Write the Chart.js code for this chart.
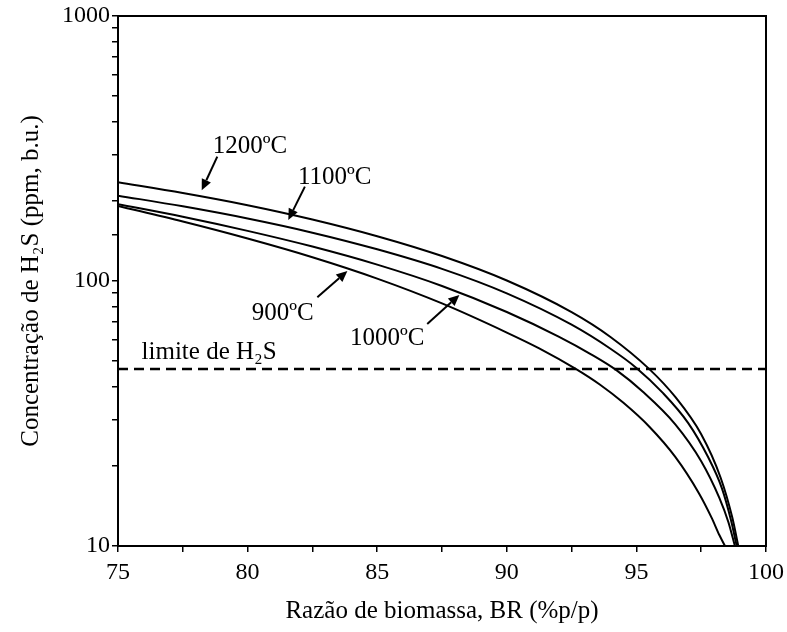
<!DOCTYPE html>
<html>
<head>
<meta charset="utf-8">
<script src="https://cdn.jsdelivr.net/npm/chart.js@4.4.1/dist/chart.umd.min.js"></script>
<style>
  html, body { margin: 0; padding: 0; background: #fff; }
  #wrap { width: 787px; height: 632px; }
</style>
</head>
<body>
<div id="wrap"><canvas id="c" width="787" height="632"></canvas></div>
<script>
// values: BR (%p/p) and H2S (ppm, b.u.)
const br1200 = [75, 77.5, 80, 82.5, 85, 87.5, 90, 92.5, 94, 95.5, 96.5, 97.5, 98.25, 98.7, 98.93];
const h2s1200 = [236, 214.9, 193.3, 170.7, 147.6, 124.2, 100.4, 76.3, 61.5, 46.5, 36.5, 26.4, 18.1, 12.8, 10];

const br1100 = [75, 77.5, 80, 82.5, 85, 87.5, 90, 92.5, 94, 95, 96, 97, 97.75, 98.3, 98.65, 98.87];
const h2s1100 = [210, 191.3, 172.1, 152.2, 131.7, 111.1, 89.8, 68.4, 55.5, 47.0, 38.0, 29.1, 21.8, 16.5, 12.5, 10];

const br1000 = [75, 77.5, 80, 82.5, 85, 87.5, 90, 92, 93.25, 94.24, 95.25, 96.5, 97.5, 98.2, 98.55, 98.8];
const h2s1000 = [195, 174.8, 154.6, 134.9, 115.3, 95.8, 76.4, 61.7, 52.9, 46.0, 38.2, 28.8, 20.9, 15.2, 12.3, 10];

const br900 = [75, 77.5, 80, 82.5, 85, 87.5, 90, 91.25, 92.66, 93.6, 94.5, 95.5, 96.5, 97.4, 97.9, 98.2, 98.42];
const h2s900 = [192, 167.6, 144.6, 122.9, 102.1, 82.3, 63.9, 55.7, 46.6, 40.6, 34.7, 28.2, 21.7, 15.9, 12.8, 11.0, 10];

const limitH2S = 46.6;
const yMajor = [10, 100, 1000];

// curve labels and arrows, in data units
const tempLabels = ['1200ºC', '1100ºC', '1000ºC', '900ºC'];
const labelPos = [[78.66, 304], [81.94, 232], [83.95, 57.3], [80.16, 71.3]];
const arrowFrom = [[78.83, 294.5], [82.21, 227], [86.93, 68.8], [82.69, 86.8]];
const arrowTo = [[78.23, 220], [81.57, 170], [88.17, 88.6], [83.85, 109]];
const limitLabel = 'limite de H₂S';
const limitLabelPos = [75.91, 50.8];

const FONT = '"Liberation Serif", "Times New Roman", serif';
const tickFont = { family: FONT, size: 24 };
const titleFont = { family: FONT, size: 25 };

function pts(xs, ys) {
  return xs.map((x, i) => ({ x: x, y: ys[i] }));
}

function curve(xs, ys) {
  return {
    data: pts(xs, ys),
    borderColor: '#000',
    borderWidth: 2,
    pointRadius: 0,
    cubicInterpolationMode: 'monotone',
    fill: false
  };
}

const frame = {
  id: 'frame',
  afterDraw(chart) {
    const { ctx, chartArea: a } = chart;
    ctx.save();
    ctx.strokeStyle = '#000';
    ctx.lineWidth = 2;
    ctx.strokeRect(a.left, a.top, a.right - a.left, a.bottom - a.top);
    ctx.restore();
  }
};

function arrow(ctx, x0, y0, x1, y1) {
  const ang = Math.atan2(y1 - y0, x1 - x0);
  const len = 11, half = 5;
  const bx = x1 - len * Math.cos(ang), by = y1 - len * Math.sin(ang);
  ctx.beginPath();
  ctx.moveTo(x0, y0);
  ctx.lineTo(bx, by);
  ctx.stroke();
  ctx.beginPath();
  ctx.moveTo(x1, y1);
  ctx.lineTo(bx + half * Math.sin(ang), by - half * Math.cos(ang));
  ctx.lineTo(bx - half * Math.sin(ang), by + half * Math.cos(ang));
  ctx.closePath();
  ctx.fill();
}

const notes = {
  id: 'notes',
  afterDatasetsDraw(chart) {
    const { ctx, scales: { x, y } } = chart;
    ctx.save();
    ctx.fillStyle = '#000';
    ctx.strokeStyle = '#000';
    ctx.lineWidth = 2;
    ctx.font = '25px ' + FONT;
    ctx.textAlign = 'left';
    ctx.textBaseline = 'alphabetic';
    tempLabels.forEach((t, i) => {
      ctx.fillText(t, x.getPixelForValue(labelPos[i][0]), y.getPixelForValue(labelPos[i][1]));
      arrow(ctx,
        x.getPixelForValue(arrowFrom[i][0]), y.getPixelForValue(arrowFrom[i][1]),
        x.getPixelForValue(arrowTo[i][0]), y.getPixelForValue(arrowTo[i][1]));
    });
    ctx.fillText(limitLabel, x.getPixelForValue(limitLabelPos[0]), y.getPixelForValue(limitLabelPos[1]));
    ctx.restore();
  }
};

new Chart(document.getElementById('c'), {
  type: 'line',
  data: {
    datasets: [
      curve(br1200, h2s1200),
      curve(br1100, h2s1100),
      curve(br1000, h2s1000),
      curve(br900, h2s900),
      {
        data: [{ x: 75, y: limitH2S }, { x: 100, y: limitH2S }],
        borderColor: '#000',
        borderWidth: 2.5,
        borderDash: [10, 6],
        pointRadius: 0,
        fill: false
      }
    ]
  },
  options: {
    responsive: false,
    animation: false,
    layout: { padding: { top: 16, right: 21, bottom: 0, left: 0 } },
    plugins: { legend: { display: false }, tooltip: { enabled: false } },
    scales: {
      x: {
        type: 'linear',
        min: 75,
        max: 100,
        afterFit(s) { s.height = 86; s.paddingLeft = 0; s.paddingRight = 0; },
        border: { color: '#000', width: 2 },
        grid: { drawOnChartArea: false, drawTicks: true, tickLength: 6, color: '#000', lineWidth: 1.5 },
        ticks: {
          stepSize: 2.5,
          autoSkip: false,
          maxRotation: 0,
          padding: 6,
          color: '#000',
          font: tickFont,
          callback: v => (v % 5 === 0 ? String(v) : '')
        },
        title: {
          display: true,
          text: 'Razão de biomassa, BR (%p/p)',
          color: '#000',
          font: titleFont,
          padding: { top: 0, bottom: 6 }
        }
      },
      y: {
        type: 'logarithmic',
        min: 10,
        max: 1000,
        afterFit(s) { s.width = 118; s.paddingTop = 0; s.paddingBottom = 0; },
        border: { color: '#000', width: 2 },
        grid: { drawOnChartArea: false, drawTicks: true, tickLength: 6, color: '#000', lineWidth: 1.5 },
        ticks: {
          autoSkip: false,
          padding: 2,
          color: '#000',
          font: tickFont,
          callback: v => (yMajor.includes(v) ? String(v) : '')
        },
        title: {
          display: true,
          text: 'Concentração de H₂S (ppm, b.u.)',
          color: '#000',
          font: titleFont,
          padding: { top: 16, bottom: 0 }
        }
      }
    }
  },
  plugins: [frame, notes]
});
</script>
</body>
</html>
